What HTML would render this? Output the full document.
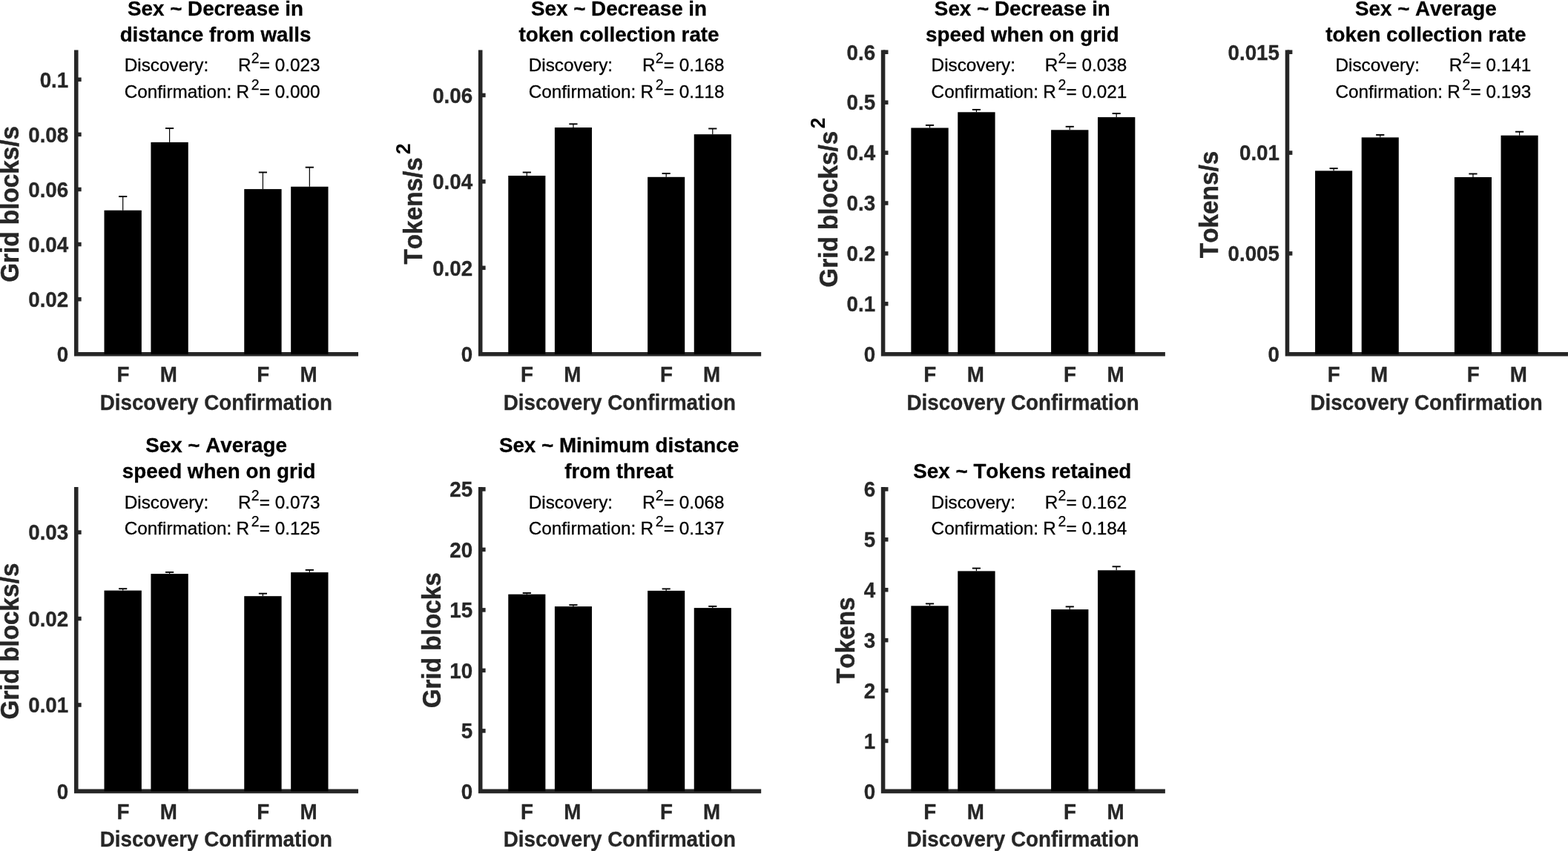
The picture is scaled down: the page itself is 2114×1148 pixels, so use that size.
<!DOCTYPE html>
<html lang="en"><head><meta charset="utf-8"><title>Sex differences: discovery and confirmation samples</title>
<style>
html,body{margin:0;padding:0;background:#fff;}
body{width:2114px;height:1148px;overflow:hidden;}
svg{display:block;font-family:"Liberation Sans", Arial, Helvetica, sans-serif;font-kerning:none;}
.t{font-weight:700;font-size:27.78px;fill:#000;stroke:#000;stroke-width:0.3px;text-anchor:middle;}
.k{font-weight:700;font-size:27.78px;fill:#262626;stroke:#262626;stroke-width:0.3px;}
.ky{text-anchor:end;}
.kx{text-anchor:middle;}
.yl{font-weight:700;font-size:33.3px;fill:#262626;stroke:#262626;stroke-width:0.45px;text-anchor:middle;}
.a{font-weight:400;font-size:24.3px;fill:#000;stroke:#000;stroke-width:0.3px;}
.s{font-weight:400;font-size:19.44px;fill:#000;stroke:#000;stroke-width:0.25px;}
.ax{stroke:#262626;stroke-width:5.56;fill:none;stroke-linecap:square;}
.tk{stroke:#262626;stroke-width:5.56;fill:none;stroke-linecap:butt;}
.b{fill:#000;}
.e{stroke:#000;stroke-width:1.2;fill:none;}
.c{stroke:#000;stroke-width:1.9;fill:none;}
</style></head><body>
<svg width="2114" height="1148" viewBox="0 0 2114 1148" role="img" aria-label="Bar charts of sex differences in behavioural measures for discovery and confirmation samples">
<rect x="0" y="0" width="2114" height="1148" fill="#fff"/>
<g>
<path class="ax" d="M102.76 70.25V477.75H480.26"/>
<rect class="b" x="140.51" y="283.75" width="50.33" height="194"/>
<path class="e" d="M165.68 283.75V264.8"/><path class="c" d="M160.08 265.1H171.28"/>
<rect class="b" x="203.43" y="191.9" width="50.33" height="285.85"/>
<path class="e" d="M228.59 191.9V172.8"/><path class="c" d="M222.99 173.1H234.19"/>
<rect class="b" x="329.26" y="255.1" width="50.33" height="222.65"/>
<path class="e" d="M354.43 255.1V232.2"/><path class="c" d="M348.83 232.5H360.03"/>
<rect class="b" x="392.18" y="251.8" width="50.33" height="225.95"/>
<path class="e" d="M417.34 251.8V225.4"/><path class="c" d="M411.74 225.7H422.94"/>
<text class="k ky" transform="translate(92.26 488) scale(1 1.048)">0</text>
<path class="tk" d="M102.76 403.66H109.66"/>
<text class="k ky" transform="translate(92.26 413.91) scale(1 1.048)">0.02</text>
<path class="tk" d="M102.76 329.57H109.66"/>
<text class="k ky" transform="translate(92.26 339.82) scale(1 1.048)">0.04</text>
<path class="tk" d="M102.76 255.48H109.66"/>
<text class="k ky" transform="translate(92.26 265.73) scale(1 1.048)">0.06</text>
<path class="tk" d="M102.76 181.39H109.66"/>
<text class="k ky" transform="translate(92.26 191.64) scale(1 1.048)">0.08</text>
<path class="tk" d="M102.76 107.3H109.66"/>
<text class="k ky" transform="translate(92.26 117.55) scale(1 1.048)">0.1</text>
<text class="k kx" transform="translate(165.88 515.15) scale(1 1.048)">F</text>
<text class="k kx" transform="translate(227.39 515.15) scale(1 1.048)">M</text>
<text class="k kx" transform="translate(354.63 515.15) scale(1 1.048)">F</text>
<text class="k kx" transform="translate(416.14 515.15) scale(1 1.048)">M</text>
<text class="k kx" transform="translate(291.31 552.5) scale(1 1.048)">Discovery Confirmation</text>
<text class="t" x="290.51" y="20.75">Sex ~ Decrease in</text>
<text class="t" x="290.51" y="55.55">distance from walls</text>
<text class="yl" transform="translate(24.7 275.4) rotate(-90) scale(1 1.048)">Grid blocks/s</text>
<text class="a" x="167.76" y="96.2">Discovery:</text>
<text class="a" x="320.96" y="96.2">R</text>
<text class="s" x="338.76" y="85.4">2</text>
<text class="a" x="349.76" y="96.2">= 0.023</text>
<text class="a" x="167.76" y="131.5">Confirmation:</text>
<text class="a" x="318.46" y="131.5">R</text>
<text class="s" x="338.76" y="120.7">2</text>
<text class="a" x="349.76" y="131.5">= 0.000</text>
</g>
<g>
<path class="ax" d="M647.7 70.25V477.75H1023.4"/>
<rect class="b" x="685.27" y="237" width="50.09" height="240.75"/>
<path class="e" d="M710.32 237V232.2"/><path class="c" d="M704.72 232.5H715.92"/>
<rect class="b" x="747.89" y="172" width="50.09" height="305.75"/>
<path class="e" d="M772.93 172V167"/><path class="c" d="M767.33 167.3H778.53"/>
<rect class="b" x="873.12" y="238.8" width="50.09" height="238.95"/>
<path class="e" d="M898.17 238.8V233.7"/><path class="c" d="M892.57 234H903.77"/>
<rect class="b" x="935.74" y="181.2" width="50.09" height="296.55"/>
<path class="e" d="M960.78 181.2V173.2"/><path class="c" d="M955.18 173.5H966.38"/>
<text class="k ky" transform="translate(637.2 488) scale(1 1.048)">0</text>
<path class="tk" d="M647.7 361.32H654.6"/>
<text class="k ky" transform="translate(637.2 371.57) scale(1 1.048)">0.02</text>
<path class="tk" d="M647.7 244.89H654.6"/>
<text class="k ky" transform="translate(637.2 255.14) scale(1 1.048)">0.04</text>
<path class="tk" d="M647.7 128.46H654.6"/>
<text class="k ky" transform="translate(637.2 138.71) scale(1 1.048)">0.06</text>
<text class="k kx" transform="translate(710.52 515.15) scale(1 1.048)">F</text>
<text class="k kx" transform="translate(771.73 515.15) scale(1 1.048)">M</text>
<text class="k kx" transform="translate(898.37 515.15) scale(1 1.048)">F</text>
<text class="k kx" transform="translate(959.58 515.15) scale(1 1.048)">M</text>
<text class="k kx" transform="translate(835.35 552.5) scale(1 1.048)">Discovery Confirmation</text>
<text class="t" x="834.55" y="20.75">Sex ~ Decrease in</text>
<text class="t" x="834.55" y="55.55">token collection rate</text>
<text class="yl" style="text-anchor:start" transform="translate(568.5 356.55) rotate(-90) scale(1 1.048)">Tokens/s<tspan dx="4.0" dy="-15.17" font-size="26.67" fill="#000" stroke="none">2</tspan></text>
<text class="a" x="712.7" y="96.2">Discovery:</text>
<text class="a" x="865.9" y="96.2">R</text>
<text class="s" x="883.7" y="85.4">2</text>
<text class="a" x="894.7" y="96.2">= 0.168</text>
<text class="a" x="712.7" y="131.5">Confirmation:</text>
<text class="a" x="863.4" y="131.5">R</text>
<text class="s" x="883.7" y="120.7">2</text>
<text class="a" x="894.7" y="131.5">= 0.118</text>
</g>
<g>
<path class="ax" d="M1190.6 70.25V477.75H1568.1"/>
<rect class="b" x="1228.35" y="172.5" width="50.33" height="305.25"/>
<path class="e" d="M1253.52 172.5V168.6"/><path class="c" d="M1247.92 168.9H1259.12"/>
<rect class="b" x="1291.27" y="151.3" width="50.33" height="326.45"/>
<path class="e" d="M1316.43 151.3V147.6"/><path class="c" d="M1310.83 147.9H1322.03"/>
<rect class="b" x="1417.1" y="175.3" width="50.33" height="302.45"/>
<path class="e" d="M1442.27 175.3V170.5"/><path class="c" d="M1436.67 170.8H1447.87"/>
<rect class="b" x="1480.02" y="158.1" width="50.33" height="319.65"/>
<path class="e" d="M1505.18 158.1V152.8"/><path class="c" d="M1499.58 153.1H1510.78"/>
<text class="k ky" transform="translate(1180.1 488) scale(1 1.048)">0</text>
<path class="tk" d="M1190.6 409.83H1197.5"/>
<text class="k ky" transform="translate(1180.1 420.08) scale(1 1.048)">0.1</text>
<path class="tk" d="M1190.6 341.92H1197.5"/>
<text class="k ky" transform="translate(1180.1 352.17) scale(1 1.048)">0.2</text>
<path class="tk" d="M1190.6 274H1197.5"/>
<text class="k ky" transform="translate(1180.1 284.25) scale(1 1.048)">0.3</text>
<path class="tk" d="M1190.6 206.08H1197.5"/>
<text class="k ky" transform="translate(1180.1 216.33) scale(1 1.048)">0.4</text>
<path class="tk" d="M1190.6 138.17H1197.5"/>
<text class="k ky" transform="translate(1180.1 148.42) scale(1 1.048)">0.5</text>
<path class="tk" d="M1190.6 70.25H1197.5"/>
<text class="k ky" transform="translate(1180.1 80.5) scale(1 1.048)">0.6</text>
<text class="k kx" transform="translate(1253.72 515.15) scale(1 1.048)">F</text>
<text class="k kx" transform="translate(1315.23 515.15) scale(1 1.048)">M</text>
<text class="k kx" transform="translate(1442.47 515.15) scale(1 1.048)">F</text>
<text class="k kx" transform="translate(1503.98 515.15) scale(1 1.048)">M</text>
<text class="k kx" transform="translate(1379.15 552.5) scale(1 1.048)">Discovery Confirmation</text>
<text class="t" x="1378.35" y="20.75">Sex ~ Decrease in</text>
<text class="t" x="1378.35" y="55.55">speed when on grid</text>
<text class="yl" style="text-anchor:start" transform="translate(1129.4 387.65) rotate(-90) scale(1 1.048)">Grid blocks/s<tspan dx="3.2" dy="-16.7" font-size="26.67" fill="#000" stroke="none">2</tspan></text>
<text class="a" x="1255.6" y="96.2">Discovery:</text>
<text class="a" x="1408.8" y="96.2">R</text>
<text class="s" x="1426.6" y="85.4">2</text>
<text class="a" x="1437.6" y="96.2">= 0.038</text>
<text class="a" x="1255.6" y="131.5">Confirmation:</text>
<text class="a" x="1406.3" y="131.5">R</text>
<text class="s" x="1426.6" y="120.7">2</text>
<text class="a" x="1437.6" y="131.5">= 0.021</text>
</g>
<g>
<path class="ax" d="M1735.5 70.25V477.75H2111.2"/>
<rect class="b" x="1773.07" y="230.4" width="50.09" height="247.35"/>
<path class="e" d="M1798.12 230.4V226.9"/><path class="c" d="M1792.52 227.2H1803.72"/>
<rect class="b" x="1835.69" y="185.4" width="50.09" height="292.35"/>
<path class="e" d="M1860.73 185.4V181.7"/><path class="c" d="M1855.13 182H1866.33"/>
<rect class="b" x="1960.92" y="239" width="50.09" height="238.75"/>
<path class="e" d="M1985.97 239V234.2"/><path class="c" d="M1980.37 234.5H1991.57"/>
<rect class="b" x="2023.54" y="182.7" width="50.09" height="295.05"/>
<path class="e" d="M2048.58 182.7V177.4"/><path class="c" d="M2042.98 177.7H2054.18"/>
<text class="k ky" transform="translate(1725 488) scale(1 1.048)">0</text>
<path class="tk" d="M1735.5 341.92H1742.4"/>
<text class="k ky" transform="translate(1725 352.17) scale(1 1.048)">0.005</text>
<path class="tk" d="M1735.5 206.08H1742.4"/>
<text class="k ky" transform="translate(1725 216.33) scale(1 1.048)">0.01</text>
<path class="tk" d="M1735.5 70.25H1742.4"/>
<text class="k ky" transform="translate(1725 80.5) scale(1 1.048)">0.015</text>
<text class="k kx" transform="translate(1798.32 515.15) scale(1 1.048)">F</text>
<text class="k kx" transform="translate(1859.53 515.15) scale(1 1.048)">M</text>
<text class="k kx" transform="translate(1986.17 515.15) scale(1 1.048)">F</text>
<text class="k kx" transform="translate(2047.38 515.15) scale(1 1.048)">M</text>
<text class="k kx" transform="translate(1923.15 552.5) scale(1 1.048)">Discovery Confirmation</text>
<text class="t" x="1922.35" y="20.75">Sex ~ Average</text>
<text class="t" x="1922.35" y="55.55">token collection rate</text>
<text class="yl" transform="translate(1642.2 276) rotate(-90) scale(1 1.048)">Tokens/s</text>
<text class="a" x="1800.5" y="96.2">Discovery:</text>
<text class="a" x="1953.7" y="96.2">R</text>
<text class="s" x="1971.5" y="85.4">2</text>
<text class="a" x="1982.5" y="96.2">= 0.141</text>
<text class="a" x="1800.5" y="131.5">Confirmation:</text>
<text class="a" x="1951.2" y="131.5">R</text>
<text class="s" x="1971.5" y="120.7">2</text>
<text class="a" x="1982.5" y="131.5">= 0.193</text>
</g>
<g>
<path class="ax" d="M102.76 659.9V1067.4H480.26"/>
<rect class="b" x="140.51" y="796.6" width="50.33" height="270.8"/>
<path class="e" d="M165.68 796.6V793.9"/><path class="c" d="M160.08 794.2H171.28"/>
<rect class="b" x="203.43" y="774.1" width="50.33" height="293.3"/>
<path class="e" d="M228.59 774.1V771.6"/><path class="c" d="M222.99 771.9H234.19"/>
<rect class="b" x="329.26" y="804.2" width="50.33" height="263.2"/>
<path class="e" d="M354.43 804.2V800.4"/><path class="c" d="M348.83 800.7H360.03"/>
<rect class="b" x="392.18" y="772.1" width="50.33" height="295.3"/>
<path class="e" d="M417.34 772.1V768.6"/><path class="c" d="M411.74 768.9H422.94"/>
<text class="k ky" transform="translate(92.26 1077.5) scale(1 1.048)">0</text>
<path class="tk" d="M102.76 950.97H109.66"/>
<text class="k ky" transform="translate(92.26 961.07) scale(1 1.048)">0.01</text>
<path class="tk" d="M102.76 834.54H109.66"/>
<text class="k ky" transform="translate(92.26 844.64) scale(1 1.048)">0.02</text>
<path class="tk" d="M102.76 718.11H109.66"/>
<text class="k ky" transform="translate(92.26 728.21) scale(1 1.048)">0.03</text>
<text class="k kx" transform="translate(165.88 1105) scale(1 1.048)">F</text>
<text class="k kx" transform="translate(227.39 1105) scale(1 1.048)">M</text>
<text class="k kx" transform="translate(354.63 1105) scale(1 1.048)">F</text>
<text class="k kx" transform="translate(416.14 1105) scale(1 1.048)">M</text>
<text class="k kx" transform="translate(291.31 1142.3) scale(1 1.048)">Discovery Confirmation</text>
<text class="t" x="291.51" y="610.4">Sex ~ Average</text>
<text class="t" x="295.21" y="645.2">speed when on grid</text>
<text class="yl" transform="translate(24.7 865.05) rotate(-90) scale(1 1.048)">Grid blocks/s</text>
<text class="a" x="167.76" y="685.55">Discovery:</text>
<text class="a" x="320.96" y="685.55">R</text>
<text class="s" x="338.76" y="674.75">2</text>
<text class="a" x="349.76" y="685.55">= 0.073</text>
<text class="a" x="167.76" y="721.25">Confirmation:</text>
<text class="a" x="318.46" y="721.25">R</text>
<text class="s" x="338.76" y="710.45">2</text>
<text class="a" x="349.76" y="721.25">= 0.125</text>
</g>
<g>
<path class="ax" d="M647.7 659.9V1067.4H1023.4"/>
<rect class="b" x="685.27" y="801.7" width="50.09" height="265.7"/>
<path class="e" d="M710.32 801.7V799.7"/><path class="c" d="M704.72 800H715.92"/>
<rect class="b" x="747.89" y="818.1" width="50.09" height="249.3"/>
<path class="e" d="M772.93 818.1V815.8"/><path class="c" d="M767.33 816.1H778.53"/>
<rect class="b" x="873.12" y="796.9" width="50.09" height="270.5"/>
<path class="e" d="M898.17 796.9V794.1"/><path class="c" d="M892.57 794.4H903.77"/>
<rect class="b" x="935.74" y="820.1" width="50.09" height="247.3"/>
<path class="e" d="M960.78 820.1V817.6"/><path class="c" d="M955.18 817.9H966.38"/>
<text class="k ky" transform="translate(637.2 1077.5) scale(1 1.048)">0</text>
<path class="tk" d="M647.7 985.9H654.6"/>
<text class="k ky" transform="translate(637.2 996) scale(1 1.048)">5</text>
<path class="tk" d="M647.7 904.4H654.6"/>
<text class="k ky" transform="translate(637.2 914.5) scale(1 1.048)">10</text>
<path class="tk" d="M647.7 822.9H654.6"/>
<text class="k ky" transform="translate(637.2 833) scale(1 1.048)">15</text>
<path class="tk" d="M647.7 741.4H654.6"/>
<text class="k ky" transform="translate(637.2 751.5) scale(1 1.048)">20</text>
<path class="tk" d="M647.7 659.9H654.6"/>
<text class="k ky" transform="translate(637.2 670) scale(1 1.048)">25</text>
<text class="k kx" transform="translate(710.52 1105) scale(1 1.048)">F</text>
<text class="k kx" transform="translate(771.73 1105) scale(1 1.048)">M</text>
<text class="k kx" transform="translate(898.37 1105) scale(1 1.048)">F</text>
<text class="k kx" transform="translate(959.58 1105) scale(1 1.048)">M</text>
<text class="k kx" transform="translate(835.35 1142.3) scale(1 1.048)">Discovery Confirmation</text>
<text class="t" x="834.55" y="610.4">Sex ~ Minimum distance</text>
<text class="t" x="834.55" y="645.2">from threat</text>
<text class="yl" transform="translate(593.8 863.75) rotate(-90) scale(1 1.048)">Grid blocks</text>
<text class="a" x="712.7" y="685.55">Discovery:</text>
<text class="a" x="865.9" y="685.55">R</text>
<text class="s" x="883.7" y="674.75">2</text>
<text class="a" x="894.7" y="685.55">= 0.068</text>
<text class="a" x="712.7" y="721.25">Confirmation:</text>
<text class="a" x="863.4" y="721.25">R</text>
<text class="s" x="883.7" y="710.45">2</text>
<text class="a" x="894.7" y="721.25">= 0.137</text>
</g>
<g>
<path class="ax" d="M1190.6 659.9V1067.4H1568.1"/>
<rect class="b" x="1228.35" y="817.3" width="50.33" height="250.1"/>
<path class="e" d="M1253.52 817.3V814.1"/><path class="c" d="M1247.92 814.4H1259.12"/>
<rect class="b" x="1291.27" y="770.4" width="50.33" height="297"/>
<path class="e" d="M1316.43 770.4V766.3"/><path class="c" d="M1310.83 766.6H1322.03"/>
<rect class="b" x="1417.1" y="822.1" width="50.33" height="245.3"/>
<path class="e" d="M1442.27 822.1V818.1"/><path class="c" d="M1436.67 818.4H1447.87"/>
<rect class="b" x="1480.02" y="769.3" width="50.33" height="298.1"/>
<path class="e" d="M1505.18 769.3V764"/><path class="c" d="M1499.58 764.3H1510.78"/>
<text class="k ky" transform="translate(1180.1 1077.5) scale(1 1.048)">0</text>
<path class="tk" d="M1190.6 999.48H1197.5"/>
<text class="k ky" transform="translate(1180.1 1009.58) scale(1 1.048)">1</text>
<path class="tk" d="M1190.6 931.57H1197.5"/>
<text class="k ky" transform="translate(1180.1 941.67) scale(1 1.048)">2</text>
<path class="tk" d="M1190.6 863.65H1197.5"/>
<text class="k ky" transform="translate(1180.1 873.75) scale(1 1.048)">3</text>
<path class="tk" d="M1190.6 795.73H1197.5"/>
<text class="k ky" transform="translate(1180.1 805.83) scale(1 1.048)">4</text>
<path class="tk" d="M1190.6 727.82H1197.5"/>
<text class="k ky" transform="translate(1180.1 737.92) scale(1 1.048)">5</text>
<path class="tk" d="M1190.6 659.9H1197.5"/>
<text class="k ky" transform="translate(1180.1 670) scale(1 1.048)">6</text>
<text class="k kx" transform="translate(1253.72 1105) scale(1 1.048)">F</text>
<text class="k kx" transform="translate(1315.23 1105) scale(1 1.048)">M</text>
<text class="k kx" transform="translate(1442.47 1105) scale(1 1.048)">F</text>
<text class="k kx" transform="translate(1503.98 1105) scale(1 1.048)">M</text>
<text class="k kx" transform="translate(1379.15 1142.3) scale(1 1.048)">Discovery Confirmation</text>
<text class="t" x="1378.35" y="645.2">Sex ~ Tokens retained</text>
<text class="yl" transform="translate(1151.8 863.75) rotate(-90) scale(1 1.048)">Tokens</text>
<text class="a" x="1255.6" y="685.55">Discovery:</text>
<text class="a" x="1408.8" y="685.55">R</text>
<text class="s" x="1426.6" y="674.75">2</text>
<text class="a" x="1437.6" y="685.55">= 0.162</text>
<text class="a" x="1255.6" y="721.25">Confirmation:</text>
<text class="a" x="1406.3" y="721.25">R</text>
<text class="s" x="1426.6" y="710.45">2</text>
<text class="a" x="1437.6" y="721.25">= 0.184</text>
</g>
</svg>
</body></html>
